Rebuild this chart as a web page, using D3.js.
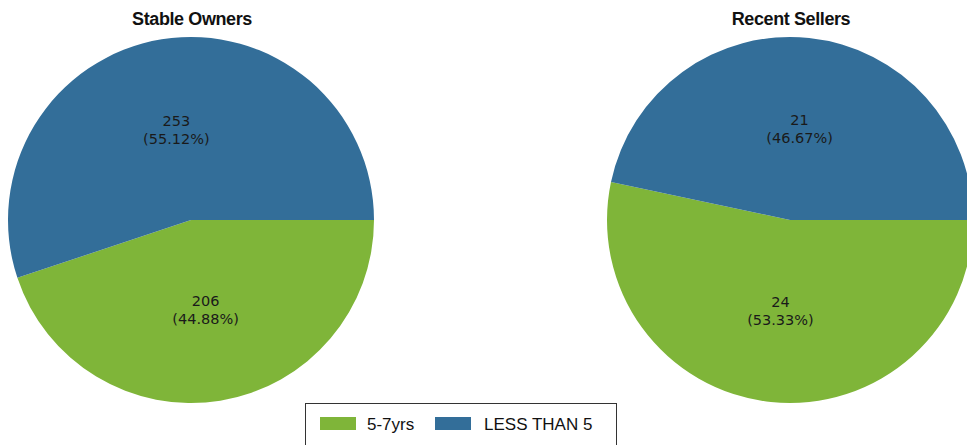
<!DOCTYPE html>
<html>
<head>
<meta charset="utf-8">
<script src="https://cdn.jsdelivr.net/npm/d3@7"></script>
<style>
  body { margin: 0; background: #fff; }
  svg { display: block; }
</style>
</head>
<body>
<div id="chart"></div>
<script>
        // Chart data
        const categories = ['5-7yrs', 'LESS THAN 5'];
        const colors = ['#7fb539', '#336e99'];
        const pieTitles = ['Stable Owners', 'Recent Sellers'];
        const stableOwners = [206, 253];
        const recentSellers = [24, 21];
        const pieValues = [stableOwners, recentSellers];

        function renderChart() {
            const width = 967, height = 445;
            const radius = 183;
            const centers = [[191, 220], [790, 220]];

            const svg = d3.select("#chart")
                .append("svg")
                .attr("width", width)
                .attr("height", height);

            const color = d3.scaleOrdinal().domain(categories).range(colors);

            // start at 3 o'clock, go clockwise
            const pie = d3.pie()
                .sort(null)
                .startAngle(Math.PI / 2)
                .endAngle(Math.PI / 2 + 2 * Math.PI);

            const arc = d3.arc().innerRadius(0).outerRadius(radius);

            pieValues.forEach((vals, i) => {
                const total = d3.sum(vals);
                const g = svg.append("g")
                    .attr("transform", `translate(${centers[i][0]},${centers[i][1]})`);

                const arcs = pie(vals);

                g.selectAll("path")
                    .data(arcs)
                    .enter()
                    .append("path")
                    .attr("d", arc)
                    .attr("fill", (d, j) => color(categories[j]));

                const labels = g.selectAll(".lbl")
                    .data(arcs)
                    .enter()
                    .append("text")
                    .attr("class", "lbl")
                    .attr("transform", d => `translate(${arc.centroid(d)})`)
                    .attr("text-anchor", "middle")
                    .style("font-family", "'DejaVu Sans', Verdana, sans-serif")
                    .style("font-size", "14.5px")
                    .style("fill", "#1a1a1a");

                labels.append("tspan")
                    .attr("x", 0)
                    .attr("y", -4)
                    .text(d => d.value);
                labels.append("tspan")
                    .attr("x", 0)
                    .attr("y", 14)
                    .text(d => `(${(d.value / total * 100).toFixed(2)}%)`);

                // title
                svg.append("text")
                    .attr("x", centers[i][0] + 1)
                    .attr("y", 25)
                    .attr("text-anchor", "middle")
                    .style("font-family", "'Liberation Sans', Arial, sans-serif")
                    .style("font-weight", "bold")
                    .style("font-size", "18px")
                    .style("letter-spacing", "-0.4px")
                    .style("fill", "#111")
                    .text(pieTitles[i]);
            });

            // Legend
            const legend = svg.append("g");
            legend.append("rect")
                .attr("x", 305.5)
                .attr("y", 403.5)
                .attr("width", 311)
                .attr("height", 60)
                .attr("fill", "#fff")
                .attr("stroke", "#333")
                .attr("stroke-width", 1);

            const items = [
                { sx: 320, tx: 367 },
                { sx: 435, tx: 484 }
            ];
            categories.forEach((c, j) => {
                legend.append("rect")
                    .attr("x", items[j].sx)
                    .attr("y", 417)
                    .attr("width", 36)
                    .attr("height", 13)
                    .attr("fill", color(c));
                legend.append("text")
                    .attr("x", items[j].tx)
                    .attr("y", 430)
                    .style("font-family", "'Liberation Sans', Arial, sans-serif")
                    .style("font-size", "17px")
                    .style("fill", "#111")
                    .text(c);
            });
        }

        window.onload = renderChart;
</script>
</body>
</html>
